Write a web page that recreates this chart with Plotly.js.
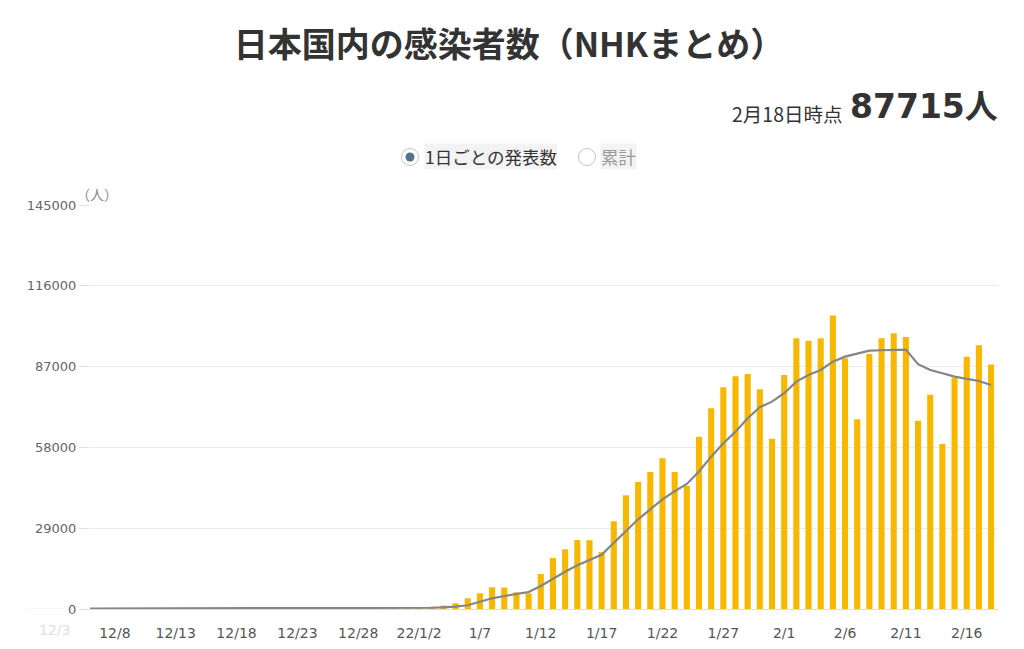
<!DOCTYPE html>
<html>
<head>
<meta charset="utf-8">
<script src="https://cdn.plot.ly/plotly-3.0.1.min.js"></script>
<style>html,body{margin:0;padding:0;background:#fff;}#chart{width:1024px;height:649px;}</style>
</head>
<body>
<div id="chart"></div>
<script>
const dates = [
 "2021-12-03","2021-12-04","2021-12-05","2021-12-06","2021-12-07","2021-12-08","2021-12-09","2021-12-10","2021-12-11","2021-12-12",
 "2021-12-13","2021-12-14","2021-12-15","2021-12-16","2021-12-17","2021-12-18","2021-12-19","2021-12-20","2021-12-21","2021-12-22",
 "2021-12-23","2021-12-24","2021-12-25","2021-12-26","2021-12-27","2021-12-28","2021-12-29","2021-12-30","2021-12-31",
 "2022-01-01","2022-01-02","2022-01-03","2022-01-04","2022-01-05","2022-01-06","2022-01-07","2022-01-08","2022-01-09","2022-01-10",
 "2022-01-11","2022-01-12","2022-01-13","2022-01-14","2022-01-15","2022-01-16","2022-01-17","2022-01-18","2022-01-19","2022-01-20",
 "2022-01-21","2022-01-22","2022-01-23","2022-01-24","2022-01-25","2022-01-26","2022-01-27","2022-01-28","2022-01-29","2022-01-30","2022-01-31",
 "2022-02-01","2022-02-02","2022-02-03","2022-02-04","2022-02-05","2022-02-06","2022-02-07","2022-02-08","2022-02-09","2022-02-10",
 "2022-02-11","2022-02-12","2022-02-13","2022-02-14","2022-02-15","2022-02-16","2022-02-17","2022-02-18"
];

const dailyCases = [
 129,134,112,64,125,148,149,141,130,130,87,151,175,174,165,163,131,107,183,253,253,260,305,255,205,385,402,499,526,
 456,553,782,1265,2050,3840,5640,7790,7700,6000,5640,12570,18300,21430,24770,24700,20460,31480,40820,45590,49180,54100,49180,44160,61860,72050,79590,83540,84370,78870,61140,
 84010,97180,96320,97180,105300,90000,68100,91550,97180,98980,97650,67600,76930,59240,83040,90580,94670,87715
];

const weeklyAverage = [
 120,122,122,118,118,120,123,125,127,126,130,130,134,137,140,143,143,146,150,165,180,195,215,230,240,270,300,340,385,
 300,350,450,600,830,1330,2620,3840,4670,5280,6100,8260,10880,13390,15690,17590,19490,23800,28000,32200,35790,39380,42250,44880,49360,54680,59490,63650,68460,72410,74420,
 77440,81600,84010,85800,88780,90580,91550,92730,92870,93090,93090,87850,85800,84620,83400,82570,81850,80420
];

const xTickVals = ["2021-12-08","2021-12-13","2021-12-18","2021-12-23","2021-12-28","2022-01-02","2022-01-07","2022-01-12","2022-01-17","2022-01-22","2022-01-27","2022-02-01","2022-02-06","2022-02-11","2022-02-16"];
const xTickText = ["12/8","12/13","12/18","12/23","12/28","22/1/2","1/7","1/12","1/17","1/22","1/27","2/1","2/6","2/11","2/16"];
const yTickVals = [0,29000,58000,87000,116000,145000];
const yTickText = ["0","29000","58000","87000","116000","145000"];

const titleText = "日本国内の感染者数（NHKまとめ）";
const asOfText = "2月18日時点";
const totalText = "87715人";
const radioLabels = ["1日ごとの発表数","累計"];
const unitText = "（人）";
const firstDateLabel = "12/3";

// pixel helpers for placing decorations in paper coordinates
const L = 90, R = 998, T = 205, B = 609;
const px = v => (v - L) / (R - L);
const py = v => (B - v) / (B - T);

const JP = '"Noto Sans CJK JP", "Noto Sans", sans-serif';

const traces = [
  {
    type: 'bar', x: dates, y: dailyCases,
    marker: {color: '#f8b700'}, hoverinfo: 'skip', name: '感染者数'
  },
  {
    type: 'scatter', mode: 'lines', x: dates, y: weeklyAverage,
    line: {color: '#858585', width: 2.2}, hoverinfo: 'skip', name: '平均'
  }
];

const layout = {
  width: 1024, height: 649,
  margin: {l: L, r: 1024 - R, t: T, b: 649 - B, pad: 0},
  paper_bgcolor: '#ffffff', plot_bgcolor: '#ffffff',
  showlegend: false, bargap: 0.5,
  title: {text: titleText, x: 0.497, xanchor: 'center', y: 0.93, yanchor: 'middle',
          font: {family: JP, size: 34, color: '#333333', weight: 'bold'}},
  xaxis: {
    type: 'date', range: ['2021-12-05 23:00', '2022-02-18 13:40'],
    tickvals: xTickVals, ticktext: xTickText,
    showgrid: false, zeroline: false, showline: false,
    ticks: 'outside', ticklen: 11, tickcolor: 'rgba(0,0,0,0)',
    tickfont: {family: '"DejaVu Sans", sans-serif', size: 14, color: '#555555'}
  },
  yaxis: {
    range: [0, 145000], tickvals: yTickVals, ticktext: yTickText,
    showgrid: true, gridcolor: '#ebebeb', gridwidth: 1,
    zeroline: true, zerolinecolor: '#dcdcdc', zerolinewidth: 1,
    showline: false, ticks: 'outside', ticklen: 10, tickcolor: '#dedede',
    tickfont: {family: '"DejaVu Sans", sans-serif', size: 13, color: '#666666'}
  },
  shapes: [
    {type: 'line', xref: 'paper', yref: 'y', x0: px(25), x1: px(64), y0: 0, y1: 0,
     line: {color: '#eeeeee', width: 1}},
    {type: 'circle', xref: 'paper', yref: 'paper', xsizemode: 'pixel', ysizemode: 'pixel',
     xanchor: px(410), yanchor: py(157), x0: -8.5, x1: 8.5, y0: -8.5, y1: 8.5,
     line: {color: '#c4c4c4', width: 1}, fillcolor: '#ffffff'},
    {type: 'circle', xref: 'paper', yref: 'paper', xsizemode: 'pixel', ysizemode: 'pixel',
     xanchor: px(410), yanchor: py(157), x0: -4.5, x1: 4.5, y0: -4.5, y1: 4.5,
     line: {color: '#4f7390', width: 0}, fillcolor: '#4f7390'},
    {type: 'circle', xref: 'paper', yref: 'paper', xsizemode: 'pixel', ysizemode: 'pixel',
     xanchor: px(587), yanchor: py(157), x0: -8.5, x1: 8.5, y0: -8.5, y1: 8.5,
     line: {color: '#c4c4c4', width: 1}, fillcolor: '#ffffff'}
  ],
  annotations: [
    {xref: 'paper', yref: 'paper', x: px(844), y: py(113), xanchor: 'right', yanchor: 'middle',
     text: asOfText, showarrow: false, font: {family: JP, size: 19.5, color: '#333333'}},
    {xref: 'paper', yref: 'paper', x: px(1000), y: py(106), xanchor: 'right', yanchor: 'middle',
     text: '<b>' + totalText + '</b>', showarrow: false,
     font: {family: '"DejaVu Sans", "Noto Sans CJK JP", sans-serif', size: 33, color: '#333333'}},
    {xref: 'paper', yref: 'paper', x: px(424), y: py(157), xanchor: 'left', yanchor: 'middle',
     text: radioLabels[0], showarrow: false, bgcolor: '#f3f3f3', borderpad: 0,
     font: {family: JP, size: 17.5, color: '#333333'}},
    {xref: 'paper', yref: 'paper', x: px(600), y: py(157), xanchor: 'left', yanchor: 'middle',
     text: radioLabels[1], showarrow: false, bgcolor: '#f3f3f3', borderpad: 0,
     font: {family: JP, size: 17.5, color: '#999999'}},
    {xref: 'paper', yref: 'paper', x: px(74), y: py(194), xanchor: 'left', yanchor: 'middle',
     text: unitText, showarrow: false, font: {family: JP, size: 14, color: '#888888'}},
    {xref: 'paper', yref: 'paper', x: px(54), y: py(630), xanchor: 'center', yanchor: 'middle',
     text: firstDateLabel, showarrow: false,
     font: {family: '"DejaVu Sans", sans-serif', size: 14, color: '#e0e0e0'}}
  ]
};

Plotly.newPlot('chart', traces, layout, {staticPlot: true, displayModeBar: false});
</script>
</body>
</html>
